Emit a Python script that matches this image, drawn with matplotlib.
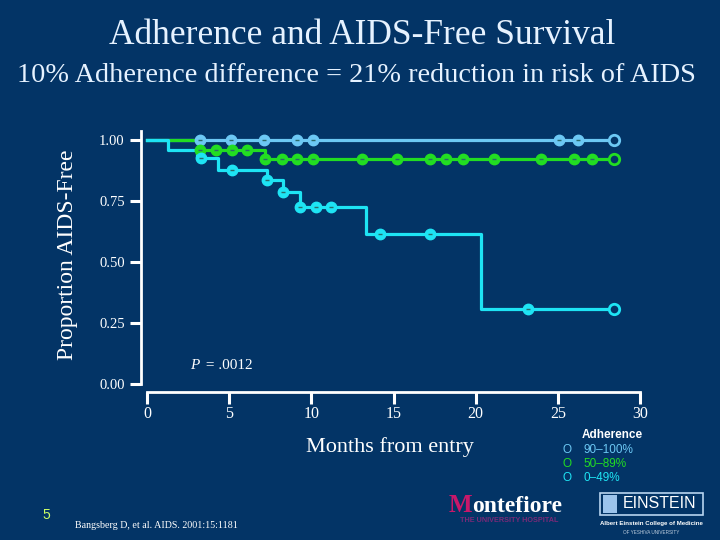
import numpy as np
import matplotlib
matplotlib.use('Agg')
from matplotlib import pyplot as plt
from matplotlib.patches import Rectangle

# Kaplan-Meier steps (months, proportion AIDS-free)
high_times = [0, 28.4]
high_surv = [1.0, 1.0]
high_censor = [3.2, 5.1, 7.1, 9.1, 10.1, 25.1, 26.2]

mid_times = [0, 3.2, 7.2, 28.4]
mid_surv = [1.0, 0.959, 0.922, 0.922]
mid_censor = [3.2, 4.2, 5.2, 6.1, 7.2, 8.2, 9.1, 10.1, 13.1, 15.2, 17.2,
              18.2, 19.2, 21.1, 24.0, 26.0, 27.1]

low_times = [0, 1.28, 3.05, 4.3, 7.3, 8.3, 9.3, 13.3, 20.3, 28.4]
low_surv = [1.0, 0.959, 0.926, 0.877, 0.836, 0.787, 0.725, 0.615, 0.307, 0.307]
low_censor = [3.3, 5.2, 7.3, 8.3, 9.3, 10.3, 11.2, 14.2, 17.2, 23.2]

x_ticks = [0, 5, 10, 15, 20, 25, 30]
y_ticks = [0.0, 0.25, 0.50, 0.75, 1.0]
y_tick_labels = ['0.00', '0.25', '0.50', '0.75', '1.00']
legend_labels = ['90\u2013100%', '50\u201389%', '0\u201349%']

BG = '#033466'
C_HIGH = '#6cc8f4'
C_MID = '#22dd22'
C_LOW = '#1ee4f4'
SERIF = ['Liberation Serif', 'DejaVu Serif']
SANS = ['Liberation Sans', 'DejaVu Sans']

W, H = 720, 540


def px(x, y):
    return x / W, 1 - y / H


def level_at(times, surv, t):
    i = np.searchsorted(times, t, side='right') - 1
    return surv[i]


fig = plt.figure(figsize=(7.2, 5.4), dpi=100, facecolor=BG)

# axes: x 0..30 -> px 147..640, y 0..1 -> px 384..140
y_top = 1.035
left, right = 147, 640
bottom, top = 384, 384 - y_top * 244
ax = fig.add_axes([left / W, 1 - bottom / H, (right - left) / W, (bottom - top) / H])
ax.set_facecolor(BG)
ax.set_xlim(0, 30)
ax.set_ylim(0, y_top)

series = [(high_times, high_surv, high_censor, C_HIGH),
          (mid_times, mid_surv, mid_censor, C_MID),
          (low_times, low_surv, low_censor, C_LOW)]

for times, surv, censor, col in series:
    ax.step(times, surv, where='post', color=col, lw=2.3, zorder=3, clip_on=False)
    cy = [level_at(times, surv, t) for t in censor]
    ax.plot(censor, cy, 'o', ms=7.5, mfc=col, mec=col, mew=1, zorder=4, clip_on=False)
    ax.plot(censor, cy, '_', ms=3, color='#2a6a6a', mew=1, zorder=5, clip_on=False)
    # last observation: open circle
    ax.plot([times[-1]], [surv[-1]], 'o', ms=7.5, mfc=BG, mec=col, mew=2,
            zorder=5, clip_on=False)

for s in ['top', 'right']:
    ax.spines[s].set_visible(False)
ax.spines['left'].set_position(('outward', 4))
ax.spines['bottom'].set_position(('outward', 6))
ax.spines['left'].set_bounds(0, y_top)
ax.spines['bottom'].set_bounds(0, 30)
for s in ['left', 'bottom']:
    ax.spines[s].set_color('white')
    ax.spines[s].set_linewidth(2)

ax.set_xticks(x_ticks)
ax.set_yticks(y_ticks)
ax.set_yticklabels(y_tick_labels)
ax.tick_params(axis='y', colors='white', length=8, width=2.2, pad=4, labelsize=10.5)
ax.tick_params(axis='x', colors='white', length=8.5, width=2.2, pad=1, labelsize=11.5)
for lab in ax.get_xticklabels() + ax.get_yticklabels():
    lab.set_family(SERIF)

ax.text(2.6, 0.06, 'P', style='italic', color='white', fontsize=11, family=SERIF)
ax.text(3.35, 0.06, ' = .0012', color='white', fontsize=11, family=SERIF)

# titles and axis names
fig.text(*px(362, 35), 'Adherence and AIDS-Free Survival', ha='center', va='center',
         color='#e6f2ff', fontsize=25.5, family=SERIF)
fig.text(*px(356, 75), '10% Adherence difference = 21% reduction in risk of AIDS',
         ha='center', va='center', color='#e6f2ff', fontsize=20.3, family=SERIF)
fig.text(*px(68, 255), 'Proportion AIDS-Free', rotation=90, ha='center', va='center',
         color='white', fontsize=17, family=SERIF)
fig.text(*px(390, 447), 'Months from entry', ha='center', va='center',
         color='white', fontsize=16, family=SERIF)

# legend
fig.text(*px(612, 435), 'Adherence', ha='center', va='center', color='white',
         fontsize=8.5, fontweight='bold', family=SANS)
for i, (lab, col) in enumerate(zip(legend_labels, [C_HIGH, C_MID, C_LOW])):
    yy = 450 + i * 14
    fig.text(*px(567, yy), 'O', ha='center', va='center', color=col,
             fontsize=8.5, family=SANS)
    fig.text(*px(583, yy), lab, ha='left', va='center', color=col,
             fontsize=8.5, family=SANS)

# footer
fig.text(*px(46, 515), '5', ha='center', va='center', color='#ccff66',
         fontsize=10, family=SANS)
fig.text(*px(75, 525), 'Bangsberg D, et al. AIDS. 2001:15:1181', ha='left', va='center',
         color='white', fontsize=7.2, family=SERIF)

# logos (text stand-ins)
fig.text(*px(449, 506), 'M', ha='left', va='center', color='#c8186a',
         fontsize=18, fontweight='bold', family=SERIF)
fig.text(*px(472, 506), 'ontefiore', ha='left', va='center', color='white',
         fontsize=17, fontweight='bold', family=SERIF)
fig.text(*px(509, 521), 'THE UNIVERSITY HOSPITAL', ha='center', va='center',
         color='#7a2a78', fontsize=5.2, fontweight='bold', family=SANS)

box = Rectangle(px(600, 515), 103 / W, 22 / H, transform=fig.transFigure,
                facecolor=BG, edgecolor='#b8d4f0', lw=1.2)
fig.patches.append(box)
emblem = Rectangle(px(603, 513), 14 / W, 18 / H, transform=fig.transFigure,
                   facecolor='#9cc4ec', edgecolor='none')
fig.patches.append(emblem)
fig.text(*px(660, 504), 'EINSTEIN', ha='center', va='center', color='white',
         fontsize=11.5, family=SANS)
fig.text(*px(651, 523), 'Albert Einstein College of Medicine', ha='center', va='center',
         color='white', fontsize=4.4, fontweight='bold', family=SANS)
fig.text(*px(651, 532), 'OF YESHIVA UNIVERSITY', ha='center', va='center',
         color='#c0d0e0', fontsize=3.3, family=SANS)

fig.savefig('out.png', dpi=100, facecolor=BG)
